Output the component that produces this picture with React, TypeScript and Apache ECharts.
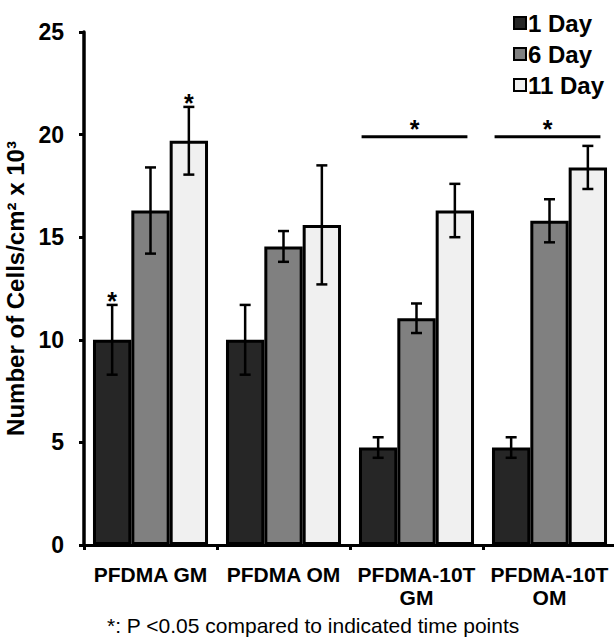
import React, { useEffect, useRef } from "react";
import * as echarts from "echarts";

const categories = ["PFDMA GM", "PFDMA OM", "PFDMA-10T\nGM", "PFDMA-10T\nOM"];
const seriesNames = ["1 Day", "6 Day", "11 Day"];
const day1 = [10.0, 10.0, 4.75, 4.75];
const day6 = [16.3, 14.55, 11.05, 15.8];
const day11 = [19.7, 15.6, 16.3, 18.4];
const day1Err = [1.7, 1.7, 0.5, 0.5];
const day6Err = [2.1, 0.75, 0.72, 1.05];
const day11Err = [1.65, 2.9, 1.3, 1.05];
const yTicks = [0, 5, 10, 15, 20, 25];
// significance bars: [category index, value]
const sigLines = [
  [2, 19.9],
  [3, 19.9],
];
// asterisks above single bars: [category index, series index]
const starBars = [
  [0, 0],
  [0, 2],
];
const footnote = "*: P <0.05 compared to indicated time points";
const colors = ["#262626", "#808080", "#f0f0f0"];

const FONT = "'Liberation Sans', Arial, sans-serif";
const CAT_GAP = 0.135;

export default function App() {
  const ref = useRef<HTMLDivElement>(null);
  useEffect(() => {
    if (!ref.current) return;
    const chart = echarts.init(ref.current, null, { renderer: "svg" });
    const values = [day1, day6, day11];
    const errs = [day1Err, day6Err, day11Err];

    const errData: number[][] = [];
    values.forEach((vals, s) => {
      vals.forEach((v, c) => {
        errData.push([c, v - errs[s][c], v + errs[s][c], s]);
      });
    });
    const starData = starBars.map(([c, s]) => [c, values[s][c] + errs[s][c], s]);

    const barSeries = values.map((vals, s) => ({
      name: seriesNames[s],
      type: "bar",
      data: vals,
      barGap: "0%",
      barCategoryGap: CAT_GAP * 100 + "%",
      itemStyle: { color: colors[s], borderColor: "#000", borderWidth: 3 },
      z: 2,
    }));

    chart.setOption({
      animation: false,
      grid: { left: 84, top: 32, right: -2, bottom: 92, outerBoundsMode: "none", containLabel: false },
      legend: {
        data: seriesNames,
        orient: "vertical",
        left: 508,
        top: 6,
        itemWidth: 12,
        itemHeight: 12,
        itemGap: 7,
        icon: "rect",
        textStyle: { fontFamily: FONT, fontWeight: "bold", fontSize: 24, color: "#000", padding: [0, 0, 0, -3] },
      },
      xAxis: {
        type: "category",
        data: categories,
        axisLine: { lineStyle: { color: "#000", width: 3 } },
        axisTick: { show: true, length: 5, lineStyle: { color: "#000", width: 3 } },
        axisLabel: {
          interval: 0,
          fontFamily: FONT,
          fontWeight: "bold",
          fontSize: 21,
          color: "#000",
          margin: 18,
          lineHeight: 23,
        },
      },
      yAxis: {
        type: "value",
        min: 0,
        max: 25,
        interval: 5,
        name: "Number of Cells/cm² x 10³",
        nameLocation: "middle",
        nameRotate: 90,
        nameGap: 45,
        nameTextStyle: { fontFamily: FONT, fontWeight: "bold", fontSize: 24, color: "#000" },
        axisLine: { show: true, lineStyle: { color: "#000", width: 3.5 } },
        axisTick: { show: true, length: 5, lineStyle: { color: "#000", width: 3 } },
        splitLine: { show: false },
        axisLabel: {
          fontFamily: FONT,
          fontWeight: "bold",
          fontSize: 23,
          color: "#000",
          margin: 20,
          formatter: (v: number) => (yTicks.includes(v) ? String(v) : ""),
        },
      },
      series: [
        ...barSeries,
        {
          type: "custom",
          name: "err",
          data: errData,
          encode: { x: 0, y: [1, 2] },
          z: 5,
          renderItem: (params: any, api: any) => {
            const c = api.value(0);
            const s = api.value(3);
            const band = api.size([1, 0])[0];
            const bw = (band * (1 - CAT_GAP)) / 3;
            const x = api.coord([c, 0])[0] + (s - 1) * bw;
            const yl = api.coord([c, api.value(1)])[1];
            const yh = api.coord([c, api.value(2)])[1];
            const cap = 5.5;
            const st = { stroke: "#000", lineWidth: 2.5 };
            return {
              type: "group",
              children: [
                { type: "line", shape: { x1: x, y1: yl, x2: x, y2: yh }, style: st },
                { type: "line", shape: { x1: x - cap, y1: yl, x2: x + cap, y2: yl }, style: st },
                { type: "line", shape: { x1: x - cap, y1: yh, x2: x + cap, y2: yh }, style: st },
              ],
            };
          },
        },
        {
          type: "custom",
          name: "stars",
          data: starData,
          encode: { x: 0, y: 1 },
          z: 6,
          renderItem: (params: any, api: any) => {
            const c = api.value(0);
            const s = api.value(2);
            const band = api.size([1, 0])[0];
            const bw = (band * (1 - CAT_GAP)) / 3;
            const x = api.coord([c, 0])[0] + (s - 1) * bw;
            const y = api.coord([c, api.value(1)])[1];
            return {
              type: "text",
              x,
              y: y - 4,
              style: {
                text: "*",
                fontFamily: FONT,
                fontWeight: "bold",
                fontSize: 25,
                fill: "#000",
                align: "center",
                verticalAlign: "middle",
              },
            };
          },
        },
        {
          type: "custom",
          name: "sig",
          data: sigLines,
          encode: { x: 0, y: 1 },
          z: 6,
          renderItem: (params: any, api: any) => {
            const c = api.value(0);
            const band = api.size([1, 0])[0];
            const gw = band * (1 - CAT_GAP);
            const cx = api.coord([c, 0])[0];
            const y = api.coord([c, api.value(1)])[1];
            const half = gw * 0.46;
            return {
              type: "group",
              children: [
                {
                  type: "line",
                  shape: { x1: cx - half - 2, y1: y, x2: cx + half - 2, y2: y },
                  style: { stroke: "#000", lineWidth: 3 },
                },
                {
                  type: "text",
                  x: cx - 2,
                  y: y - 8,
                  style: {
                    text: "*",
                    fontFamily: FONT,
                    fontWeight: "bold",
                    fontSize: 25,
                    fill: "#000",
                    align: "center",
                    verticalAlign: "middle",
                  },
                },
              ],
            };
          },
        },
      ],
      graphic: [
        {
          type: "text",
          left: 107,
          top: 615,
          style: { text: footnote, fontFamily: FONT, fontSize: 21, fill: "#000" },
        },
      ],
    });
    return () => chart.dispose();
  }, []);
  return (
    <div
      ref={ref}
      style={{ position: "fixed", left: 0, top: 0, width: 614, height: 637, background: "#fff" }}
    />
  );
}
